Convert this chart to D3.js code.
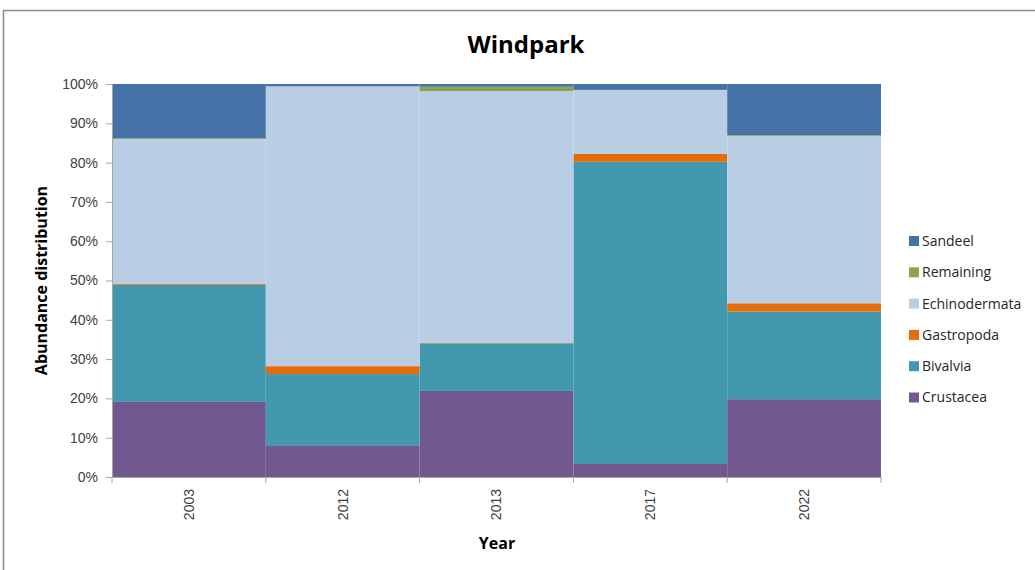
<!DOCTYPE html>
<meta charset="utf-8">
<head>
  <title>Windpark abundance</title>
</head>
<style>
body { margin: 0; background: #fff; }
text { font-family: "Open Sans", "Liberation Sans", sans-serif; }
</style>
<body>
<svg width="1035" height="570"></svg>
<script src="https://cdnjs.cloudflare.com/ajax/libs/d3/7.8.5/d3.min.js"></script>
<script>
// data (percent of total)
var years = ['2003', '2012', '2013', '2017', '2022'];
var groups = ['Crustacea', 'Bivalvia', 'Gastropoda', 'Echinodermata', 'Remaining', 'Sandeel'];
var crustacea     = [19.1,  7.9, 21.9,  3.3, 19.8];
var bivalvia      = [29.8, 18.3, 12.1, 76.9, 22.3];
var gastropoda    = [ 0.3,  2.0,  0.1,  2.0,  2.1];
var echinodermata = [36.8, 71.2, 64.1, 16.3, 42.6];
var remaining     = [ 0.2,  0.0,  1.1,  0.0,  0.2];
var sandeel       = [13.8,  0.6,  0.7,  1.5, 13.0];
var yTicks = [0, 10, 20, 30, 40, 50, 60, 70, 80, 90, 100];

var colors = {
  Crustacea: '#71588F', Bivalvia: '#4198AF', Gastropoda: '#E46C0A',
  Echinodermata: '#B9CDE5', Remaining: '#89A54E', Sandeel: '#4572A7'
};

var rows = years.map(function(y, i) {
  return {year: y, Crustacea: crustacea[i], Bivalvia: bivalvia[i], Gastropoda: gastropoda[i],
    Echinodermata: echinodermata[i], Remaining: remaining[i], Sandeel: sandeel[i]};
});

var svg = d3.select('svg');

// outer frame
svg.append('rect')
  .attr('x', 3.5).attr('y', 10.5)
  .attr('width', 1040).attr('height', 570)
  .attr('fill', 'none').attr('stroke', '#8c8c8c').attr('stroke-width', 1.5);

// plot area edges (not "top": that name is taken by window.top)
var plotL = 112, plotR = 881, plotT = 84, plotB = 477;

var x = d3.scaleBand().domain(years).range([plotL, plotR]).padding(0);
var y = d3.scaleLinear().domain([0, 100]).range([plotB, plotT]);

var series = d3.stack().keys(groups)(rows);

svg.append('g').selectAll('g')
  .data(series)
  .join('g')
  .attr('fill', function(d) { return colors[d.key]; })
  .selectAll('rect')
  .data(function(d) { return d; })
  .join('rect')
  .attr('x', function(d) { return x(d.data.year); })
  .attr('width', x.bandwidth())
  .attr('y', function(d) { return y(d[1]); })
  .attr('height', function(d) { return y(d[0]) - y(d[1]); });

// y axis
var yAxis = svg.append('g')
  .attr('transform', 'translate(' + plotL + ',0)')
  .call(d3.axisLeft(y).tickValues(yTicks).tickSize(6).tickPadding(8)
    .tickFormat(function(d) { return d + '%'; }));
yAxis.selectAll('.domain, line').attr('stroke', '#a6a6a6');
yAxis.selectAll('text').attr('font-size', 14).attr('fill', '#404040')
  .style('font-family', '"Liberation Sans", sans-serif');

// x axis, ticks on band edges
var xAxis = svg.append('g')
  .attr('transform', 'translate(0,' + plotB + ')')
  .call(d3.axisBottom(x).tickSize(0).tickPadding(0));
xAxis.select('.domain').attr('stroke', '#a6a6a6');
xAxis.selectAll('.tick text')
  .attr('font-size', 14).attr('fill', '#404040')
  .style('font-family', '"Liberation Sans", sans-serif')
  .attr('text-anchor', 'end')
  .attr('dy', '0.35em')
  .attr('transform', 'translate(0,12) rotate(-90)')
  .attr('x', 0).attr('y', 0);
xAxis.selectAll('.edge')
  .data(years.map(function(d) { return x(d); }).concat([plotR]))
  .join('line')
  .attr('class', 'edge')
  .attr('x1', function(d) { return d; }).attr('x2', function(d) { return d; })
  .attr('y1', 0).attr('y2', 6)
  .attr('stroke', '#a6a6a6');

// titles
svg.append('text')
  .attr('x', 526).attr('y', 53)
  .attr('text-anchor', 'middle')
  .attr('font-size', 24).attr('font-weight', 'bold')
  .text('Windpark');

svg.append('text')
  .attr('x', 497).attr('y', 549)
  .attr('text-anchor', 'middle')
  .attr('font-size', 16).attr('font-weight', 'bold')
  .text('Year');

svg.append('text')
  .attr('transform', 'translate(47,' + ((plotT + plotB) / 2) + ') rotate(-90)')
  .attr('text-anchor', 'middle')
  .attr('font-size', 16).attr('font-weight', 'bold')
  .text('Abundance distribution');

// legend, top item is Sandeel
var legendItems = groups.slice().reverse();
var legend = svg.append('g').selectAll('g')
  .data(legendItems)
  .join('g')
  .attr('transform', function(d, i) { return 'translate(909,' + (241 + i * 31.3) + ')'; });
legend.append('rect')
  .attr('x', 0).attr('y', -5).attr('width', 10).attr('height', 10)
  .attr('fill', function(d) { return colors[d]; });
legend.append('text')
  .attr('x', 13).attr('dy', '0.35em')
  .attr('font-size', 14).attr('fill', '#262626')
  .text(function(d) { return d; });
</script>
</body>
</html>
